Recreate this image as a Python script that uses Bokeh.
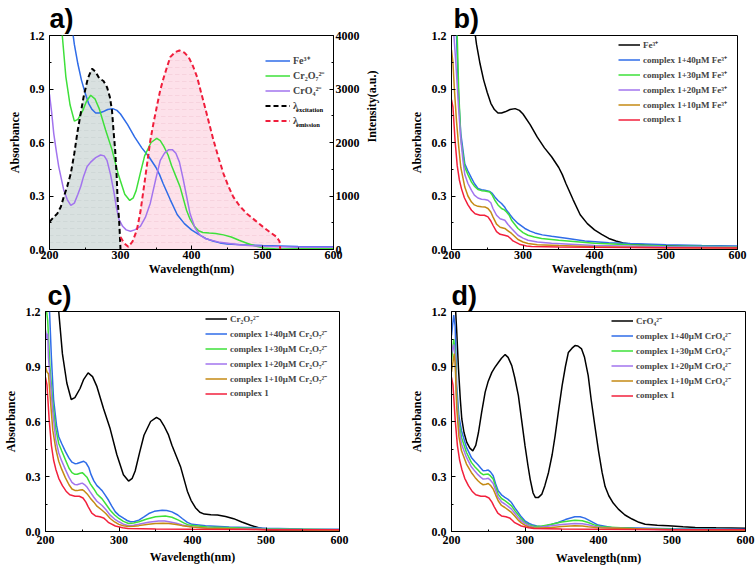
import math
from bokeh.plotting import figure
from bokeh.models import (Range1d, LinearAxis, FixedTicker, Legend, LegendItem,
                          Label, NumeralTickFormatter)
from bokeh.layouts import column, row
from bokeh.embed import file_html
from bokeh.resources import INLINE

# ---------------- data ----------------
fe_wl = [200, 220, 230, 235, 240, 245, 250, 255, 260, 265, 270, 275, 282, 289, 295, 300, 310, 320,
         330, 340, 350, 355, 360, 370, 380, 390, 400, 410, 420, 430, 440, 450, 470, 500, 550, 600]
fe_abs = [2.2, 1.6, 1.3, 1.15, 1.04, 0.95, 0.88, 0.82, 0.785, 0.765, 0.765, 0.772, 0.785, 0.79, 0.78,
          0.76, 0.70, 0.63, 0.57, 0.52, 0.46, 0.42, 0.37, 0.28, 0.195, 0.145, 0.11, 0.085, 0.062,
          0.048, 0.037, 0.031, 0.027, 0.022, 0.017, 0.015]

cr2_wl = [200, 210, 218, 223, 229, 235, 240, 247, 252, 258, 264, 270, 279, 288, 297, 306, 313, 318,
          322, 328, 334, 343, 351, 356, 361, 367, 372, 378, 384, 393, 398, 404, 410, 416, 425, 434,
          445, 456, 467, 479, 490, 502, 520, 560, 600]
cr2_abs = [2.0, 1.5, 1.2, 0.97, 0.81, 0.72, 0.73, 0.78, 0.83, 0.865, 0.845, 0.79, 0.67, 0.56, 0.42,
           0.31, 0.275, 0.29, 0.33, 0.43, 0.525, 0.60, 0.623, 0.61, 0.578, 0.53, 0.47, 0.41, 0.35,
           0.22, 0.17, 0.13, 0.105, 0.095, 0.092, 0.09, 0.082, 0.07, 0.052, 0.034, 0.02, 0.008,
           0.003, 0.004, 0.005]

cro_a_wl = [200, 203, 206, 210, 213, 217, 220, 225, 230, 235, 240, 244, 248, 253, 258, 265, 272, 277,
            281, 286, 291, 294, 298, 303, 308, 314, 320, 328, 335, 342, 350, 356, 362, 368, 373, 378,
            383, 388, 393, 398, 405, 412, 420, 440, 470, 500, 550, 600]
cro_a_abs = [0.87, 0.77, 0.65, 0.54, 0.465, 0.39, 0.335, 0.28, 0.247, 0.26, 0.31, 0.353, 0.41, 0.465,
             0.49, 0.515, 0.53, 0.525, 0.50, 0.42, 0.316, 0.24, 0.167, 0.13, 0.11, 0.102, 0.11, 0.13,
             0.18, 0.26, 0.40, 0.50, 0.54, 0.56, 0.56, 0.54, 0.49, 0.40, 0.30, 0.20, 0.12, 0.08, 0.06,
             0.04, 0.025, 0.018, 0.013, 0.012]

ex_wl = [200, 205, 211, 216, 220, 225, 230, 235, 239, 244, 248, 254, 260, 265, 270, 276, 281, 285,
         288, 290, 292.5, 294.5, 296, 298, 299, 300]
ex_int = [515, 590, 670, 800, 980, 1180, 1420, 1800, 2165, 2550, 2850, 3200, 3380, 3320, 3200, 3150,
          3035, 2850, 2600, 2250, 1855, 1400, 920, 550, 300, 0]

em_wl = [300, 305, 311, 317, 323, 328, 333, 338, 342, 347, 352, 356, 361, 366, 370, 377, 383, 390,
         396, 402, 408, 413, 419, 425, 431, 438, 445, 452, 459, 468, 478, 490, 501, 510, 520, 524, 525]
em_int = [235, 120, 50, 150, 360, 700, 1170, 1650, 2040, 2400, 2725, 2980, 3220, 3430, 3595, 3690,
          3720, 3680, 3595, 3430, 3220, 2960, 2660, 2350, 2040, 1720, 1420, 1180, 980, 810, 670, 540,
          420, 330, 235, 150, 0]

# complex 1 (shared by b, c, d)
c1_wl = [200, 202, 205, 208, 211, 214, 218, 223, 228, 233, 240, 246, 251, 255, 258, 263, 268, 274,
         279, 283, 286, 295, 305, 312, 350, 400, 500, 600]
c1_abs = [0.84, 0.80, 0.61, 0.47, 0.39, 0.34, 0.29, 0.25, 0.22, 0.20, 0.192, 0.192, 0.183, 0.16,
          0.136, 0.10, 0.085, 0.08, 0.074, 0.06, 0.048, 0.03, 0.02, 0.017, 0.014, 0.012, 0.01, 0.009]

# panel b : complex 1 + Fe3+
b40_wl = [200, 205, 207, 210, 213, 218.6, 223, 228, 232, 237, 242, 246.6, 253.6, 257, 260.6, 265,
          270, 274, 277, 281, 286, 293, 302.6, 310, 316.6, 327, 340, 363, 386.5, 420, 450, 500, 550, 600]
b40_abs = [1.8, 1.4, 1.2, 0.85, 0.65, 0.48, 0.44, 0.40, 0.37, 0.342, 0.335, 0.332, 0.325, 0.315,
           0.295, 0.275, 0.258, 0.24, 0.22, 0.20, 0.174, 0.146, 0.118, 0.103, 0.093, 0.082, 0.074,
           0.062, 0.048, 0.038, 0.033, 0.027, 0.022, 0.02]
b30_wl = [200, 205, 208, 210, 213, 218.6, 223, 228, 232, 237, 242, 246.6, 253.6, 257, 260.6, 265,
          270, 274, 277, 281, 284, 293, 300, 307, 316, 326, 350, 400, 450, 500, 600]
b30_abs = [1.7, 1.35, 1.2, 0.9, 0.62, 0.462, 0.42, 0.378, 0.355, 0.336, 0.33, 0.328, 0.322, 0.305,
           0.276, 0.25, 0.23, 0.222, 0.21, 0.19, 0.164, 0.118, 0.095, 0.08, 0.07, 0.062, 0.052,
           0.035, 0.026, 0.02, 0.015]
b20_wl = [200, 203, 206, 209.8, 213, 216, 218.6, 223, 228, 232, 237, 242, 246.6, 251, 255, 258, 263,
          268, 274.6, 279, 284, 293, 300, 307, 320, 340, 400, 500, 600]
b20_abs = [1.25, 1.22, 1.05, 0.80, 0.62, 0.50, 0.42, 0.37, 0.332, 0.305, 0.289, 0.282, 0.28, 0.276,
           0.262, 0.23, 0.192, 0.172, 0.164, 0.14, 0.118, 0.08, 0.064, 0.052, 0.042, 0.035, 0.022,
           0.016, 0.012]
b10_wl = [200, 202, 204, 207, 210, 213, 218.6, 223, 228, 232, 237, 242, 246.6, 251, 255, 258, 263,
          268, 274.6, 279, 284, 293, 300, 307, 320, 350, 400, 500, 600]
b10_abs = [1.12, 1.05, 0.90, 0.72, 0.58, 0.46, 0.35, 0.30, 0.266, 0.25, 0.242, 0.24, 0.239, 0.23,
           0.21, 0.183, 0.142, 0.125, 0.118, 0.105, 0.09, 0.056, 0.042, 0.034, 0.027, 0.022, 0.015,
           0.01, 0.008]

# panel c : complex 1 + Cr2O7 2-
c40_wl = [200, 205, 208, 211, 215, 218, 222, 227, 232, 236, 240, 243, 248, 252, 255, 259, 262, 265.8,
          270, 274, 277, 281, 286, 290, 295, 300, 306.6, 311, 315.6, 321, 327, 334, 340.6, 348, 358.7,
          365, 372, 380, 386, 393, 399.5, 417.7, 450, 500, 550, 600]
c40_abs = [1.6, 1.25, 0.95, 0.72, 0.58, 0.517, 0.48, 0.437, 0.40, 0.378, 0.37, 0.371, 0.378, 0.383,
           0.375, 0.348, 0.31, 0.276, 0.25, 0.235, 0.223, 0.20, 0.169, 0.14, 0.107, 0.088, 0.071,
           0.06, 0.053, 0.055, 0.062, 0.08, 0.098, 0.11, 0.116, 0.114, 0.107, 0.09, 0.071, 0.05,
           0.039, 0.032, 0.025, 0.018, 0.014, 0.012]
c30_wl = [200, 203, 206, 210, 214, 218, 222, 227, 232, 236, 240, 243, 247, 250, 253, 256.7, 261,
          265.8, 270, 277, 282, 288, 294, 299.8, 306, 313, 320, 327, 338, 349.7, 363, 372, 381, 388,
          395, 420, 500, 600]
c30_abs = [1.25, 1.15, 0.90, 0.70, 0.56, 0.48, 0.44, 0.392, 0.345, 0.321, 0.312, 0.312, 0.318, 0.321,
           0.31, 0.294, 0.26, 0.232, 0.205, 0.178, 0.15, 0.116, 0.09, 0.071, 0.055, 0.044, 0.046,
           0.053, 0.068, 0.08, 0.084, 0.078, 0.062, 0.047, 0.035, 0.025, 0.015, 0.01]
c20_wl = [200, 202, 203, 204, 207, 210, 214, 218, 222, 227, 232, 236, 240, 243, 247, 250, 253, 256.7,
          261, 265.8, 270, 277, 282, 288, 294, 299.8, 306, 313, 320, 327, 340, 354, 362, 368, 378,
          386, 400, 420, 500, 600]
c20_abs = [1.1, 1.05, 1.08, 0.95, 0.80, 0.65, 0.50, 0.428, 0.385, 0.339, 0.295, 0.268, 0.256, 0.255,
           0.26, 0.264, 0.256, 0.241, 0.215, 0.187, 0.165, 0.142, 0.12, 0.089, 0.068, 0.053, 0.04,
           0.032, 0.034, 0.039, 0.05, 0.057, 0.057, 0.053, 0.045, 0.035, 0.025, 0.018, 0.012, 0.008]
c10_wl = [200, 202, 204, 207, 210, 214, 218, 222, 227, 232, 236, 240, 243, 247, 250, 253, 256.7, 261,
          265.8, 270, 277, 282, 288, 294, 299.8, 306, 313, 320, 327, 340, 349.7, 360, 368, 378, 386,
          400, 420, 500, 600]
c10_abs = [0.90, 0.87, 0.86, 0.70, 0.55, 0.45, 0.383, 0.34, 0.294, 0.255, 0.232, 0.224, 0.223, 0.226,
           0.228, 0.22, 0.205, 0.182, 0.16, 0.138, 0.116, 0.098, 0.071, 0.052, 0.039, 0.031, 0.027,
           0.028, 0.032, 0.04, 0.044, 0.045, 0.043, 0.038, 0.032, 0.024, 0.018, 0.01, 0.007]

# panel d : CrO4 2- and complex 1 + CrO4 2-
cro_d_wl = [200, 205, 207, 209.5, 212, 214, 217, 220.8, 225, 229, 233, 236.7, 241, 245.8, 250, 254.9,
            259, 264, 268, 273, 277, 282, 286, 291, 295, 300, 304, 307, 311, 314, 318, 323, 327, 332,
            337, 341, 346, 350.5, 355, 359, 364, 368, 372, 377, 381, 386, 390, 395, 400, 404.9, 409,
            414, 420, 427, 436, 445.7, 455, 463.5, 480, 495, 515, 531.6, 560, 580, 600]
cro_d_abs = [1.45, 1.25, 1.1, 0.887, 0.72, 0.614, 0.54, 0.486, 0.455, 0.44, 0.47, 0.54, 0.65, 0.76,
             0.82, 0.868, 0.895, 0.923, 0.945, 0.965, 0.95, 0.905, 0.84, 0.741, 0.62, 0.468, 0.36,
             0.286, 0.21, 0.186, 0.185, 0.204, 0.25, 0.322, 0.42, 0.523, 0.67, 0.796, 0.90, 0.977,
             1.0, 1.014, 1.012, 0.996, 0.95, 0.85, 0.72, 0.577, 0.44, 0.322, 0.245, 0.195, 0.155,
             0.122, 0.09, 0.068, 0.05, 0.04, 0.034, 0.031, 0.026, 0.022, 0.02, 0.019, 0.018]
d40_wl = [200, 203, 205, 207, 210, 213.6, 220.4, 227, 232, 236, 240, 243, 247, 250, 253, 256.7, 260,
          263.5, 268, 272.6, 277, 281.6, 286, 290.7, 295, 299.8, 305, 311, 316, 322.4, 330, 345, 355,
          367.8, 375, 381.4, 390, 399.5, 417.7, 500, 600]
d40_abs = [1.07, 1.18, 1.12, 0.80, 0.63, 0.55, 0.459, 0.404, 0.38, 0.364, 0.345, 0.331, 0.333, 0.335,
           0.325, 0.304, 0.26, 0.222, 0.20, 0.186, 0.175, 0.158, 0.13, 0.104, 0.08, 0.058, 0.045,
           0.035, 0.03, 0.027, 0.032, 0.049, 0.065, 0.08, 0.08, 0.073, 0.055, 0.035, 0.022, 0.015,
           0.012]
d30_wl = [200, 203, 205, 207, 210, 213.6, 220.4, 227, 232, 236, 240, 243, 247, 250, 253, 256.7, 260,
          263.5, 268, 272.6, 277, 281.6, 286, 290.7, 295, 299.8, 306, 313, 320, 336, 350, 367.8, 378,
          386, 395, 404, 450, 500, 600]
d30_abs = [0.93, 1.05, 0.98, 0.75, 0.60, 0.513, 0.431, 0.377, 0.352, 0.335, 0.318, 0.31, 0.312,
           0.313, 0.303, 0.286, 0.245, 0.204, 0.18, 0.168, 0.155, 0.14, 0.115, 0.091, 0.07, 0.049,
           0.035, 0.027, 0.028, 0.04, 0.052, 0.062, 0.059, 0.049, 0.035, 0.026, 0.016, 0.012, 0.01]
d20_wl = [200, 203, 205, 207, 210, 213.6, 220.4, 227, 232, 236, 240, 243, 247, 250, 253, 256.7, 260,
          263.5, 268, 272.6, 277, 281.6, 286, 290.7, 295, 299.8, 306, 313, 320, 336, 350, 367.8, 378,
          386, 395, 404, 450, 500, 600]
d20_abs = [0.97, 1.02, 0.95, 0.72, 0.57, 0.477, 0.404, 0.353, 0.328, 0.31, 0.295, 0.286, 0.288, 0.29,
           0.28, 0.262, 0.225, 0.186, 0.162, 0.15, 0.137, 0.122, 0.10, 0.076, 0.058, 0.044, 0.03,
           0.022, 0.023, 0.031, 0.038, 0.044, 0.042, 0.037, 0.028, 0.022, 0.014, 0.01, 0.008]
d10_wl = [200, 203.7, 205, 207, 210, 213.6, 220.4, 227, 232, 236, 240, 243, 247, 250, 253, 256.7, 260,
          263.5, 268, 272.6, 277, 281.6, 286, 290.7, 295, 299.8, 306, 313, 320, 336, 350, 367.8, 378,
          386, 400, 450, 500, 600]
d10_abs = [0.87, 0.97, 0.92, 0.68, 0.52, 0.44, 0.368, 0.322, 0.295, 0.277, 0.262, 0.255, 0.258,
           0.262, 0.252, 0.232, 0.20, 0.168, 0.142, 0.131, 0.118, 0.104, 0.085, 0.062, 0.047, 0.035,
           0.024, 0.019, 0.019, 0.022, 0.027, 0.031, 0.03, 0.026, 0.02, 0.015, 0.01, 0.007]

x_ticks = [200, 300, 400, 500, 600]
y_ticks = [0.0, 0.3, 0.6, 0.9, 1.2]
int_ticks = [0, 1000, 2000, 3000, 4000]

# ---------------- styling ----------------
SERIF = "Liberation Serif"
BLUE, GREEN, PURPLE, ORANGE, RED = "#2f6ce8", "#3ee03a", "#a274ee", "#c48a14", "#f2203c"


def style_axis(ax, label_standoff, axis_standoff):
    ax.axis_line_color = "black"
    ax.major_tick_line_color = "black"
    ax.minor_tick_line_color = "black"
    ax.major_tick_in = 4
    ax.major_tick_out = 0
    ax.minor_tick_in = 2
    ax.minor_tick_out = 0
    ax.major_label_text_font = SERIF
    ax.major_label_text_font_style = "bold"
    ax.major_label_text_font_size = "12px"
    ax.major_label_text_color = "black"
    ax.axis_label_text_font = SERIF
    ax.axis_label_text_font_style = "bold"
    ax.axis_label_text_font_size = "12px"
    ax.axis_label_text_color = "black"
    ax.major_label_standoff = label_standoff
    ax.axis_label_standoff = axis_standoff


def make_fig(w, h, bl, br, bt, bb, letter, letter_off, letter_standoff, xstand):
    p = figure(width=w, height=h, x_range=Range1d(200, 600), y_range=Range1d(0, 1.2),
               output_backend="svg", toolbar_location=None,
               min_border_left=bl, min_border_right=br, min_border_top=bt, min_border_bottom=bb)
    p.xgrid.visible = False
    p.ygrid.visible = False
    p.outline_line_color = "black"
    p.outline_line_width = 1
    p.background_fill_color = "white"
    p.border_fill_color = "white"
    p.xaxis.axis_label = "Wavelength(nm)"
    p.yaxis.axis_label = "Absorbance"
    p.xaxis.ticker = FixedTicker(ticks=x_ticks, minor_ticks=[250, 350, 450, 550])
    p.yaxis.ticker = FixedTicker(ticks=y_ticks, minor_ticks=[0.15, 0.45, 0.75, 1.05])
    p.yaxis.formatter = NumeralTickFormatter(format="0.0")
    style_axis(p.xaxis[0], xstand[0], xstand[1])
    style_axis(p.yaxis[0], 5, 5)
    p.title.text = letter
    p.title.align = "left"
    p.title.offset = letter_off
    p.title.standoff = letter_standoff
    p.title.text_font = "Liberation Sans"
    p.title.text_font_style = "bold"
    p.title.text_font_size = "27px"
    p.title.text_color = "black"
    return p


def make_legend(items, loc, glyph_w, size, padding):
    lg = Legend(items=[LegendItem(label=t, renderers=[r]) for t, r in items], location=loc)
    lg.label_text_font = SERIF
    lg.label_text_font_style = "bold"
    lg.label_text_font_size = size
    lg.glyph_width = glyph_w
    lg.glyph_height = 15
    lg.label_height = 15
    lg.label_standoff = 3
    lg.spacing = 0
    lg.padding = padding
    lg.margin = 0
    lg.border_line_alpha = 0
    lg.background_fill_alpha = 0
    return lg


LW = 1.5

# ---------------- panel a ----------------
pa = make_fig(388, 278, 49, 55, 35, 29, "a)", 0, 3, (1, 0))
pa.extra_y_ranges = {"int": Range1d(0, 4000)}
rax = LinearAxis(y_range_name="int", axis_label="Intensity(a.u.)",
                 ticker=FixedTicker(ticks=int_ticks, minor_ticks=[500, 1500, 2500, 3500]))
style_axis(rax, 2, 9)
rax.axis_label_orientation = math.pi / 2
pa.add_layout(rax, "right")

pa.varea(x=ex_wl, y1=0, y2=ex_int, y_range_name="int", fill_color="#d9e1e0", fill_alpha=1,
         hatch_pattern="horizontal_dash", hatch_color="#b9c4c4", hatch_alpha=0.5,
         hatch_scale=7, hatch_weight=0.6)
pa.varea(x=em_wl, y1=0, y2=em_int, y_range_name="int", fill_color="#fde1ea", fill_alpha=1,
         hatch_pattern="horizontal_dash", hatch_color="#e7b3c3", hatch_alpha=0.5,
         hatch_scale=7, hatch_weight=0.6)
ra1 = pa.line(fe_wl, fe_abs, line_color=BLUE, line_width=LW)
ra2 = pa.line(cr2_wl, cr2_abs, line_color=GREEN, line_width=LW)
ra3 = pa.line(cro_a_wl, cro_a_abs, line_color=PURPLE, line_width=LW)
ra4 = pa.line(ex_wl, ex_int, y_range_name="int", line_color="black", line_width=2, line_dash="5 3")
ra5 = pa.line(em_wl, em_int, y_range_name="int", line_color="#f01e3c", line_width=2,
              line_dash="5 3")
pa.add_layout(make_legend([("Fe³⁺", ra1), ("Cr₂O₇²⁻", ra2), ("CrO₄²⁻", ra3),
                           ("λ", ra4), ("λ", ra5)], (212, 117.5), 25, "10px", 4))
for txt, yv in [("excitation", 0.785), ("emission", 0.701)]:
    pa.add_layout(Label(x=547.2, y=yv, text=txt, text_font=SERIF, text_font_style="bold",
                        text_font_size="6.5px", text_color="black", text_baseline="alphabetic"))

# ---------------- panel b ----------------
pb = make_fig(368, 278, 63, 19, 35, 29, "b)", 2, 3, (1, 0))
rb0 = pb.line(fe_wl, fe_abs, line_color="black", line_width=LW)
rb1 = pb.line(b40_wl, b40_abs, line_color=BLUE, line_width=LW)
rb2 = pb.line(b30_wl, b30_abs, line_color=GREEN, line_width=LW)
rb3 = pb.line(b20_wl, b20_abs, line_color=PURPLE, line_width=LW)
rb4 = pb.line(b10_wl, b10_abs, line_color=ORANGE, line_width=LW)
rb5 = pb.line(c1_wl, c1_abs, line_color=RED, line_width=LW)
pb.add_layout(make_legend([("Fe³⁺", rb0), ("complex 1+40μM Fe³⁺", rb1),
                           ("complex 1+30μM Fe³⁺", rb2), ("complex 1+20μM Fe³⁺", rb3),
                           ("complex 1+10μM Fe³⁺", rb4), ("complex 1", rb5)],
                          (166, 121.5), 22, "9px", 1))

# ---------------- panel c ----------------
pc = make_fig(378, 291, 45, 39, 33, 36, "c)", 2, 1, (4, 3))
rc0 = pc.line(cr2_wl, cr2_abs, line_color="black", line_width=LW)
rc1 = pc.line(c40_wl, c40_abs, line_color=BLUE, line_width=LW)
rc2 = pc.line(c30_wl, c30_abs, line_color=GREEN, line_width=LW)
rc3 = pc.line(c20_wl, c20_abs, line_color=PURPLE, line_width=LW)
rc4 = pc.line(c10_wl, c10_abs, line_color=ORANGE, line_width=LW)
rc5 = pc.line(c1_wl, c1_abs, line_color=RED, line_width=LW)
pc.add_layout(make_legend([("Cr₂O₇²⁻", rc0), ("complex 1+40μM Cr₂O₇²⁻", rc1),
                           ("complex 1+30μM Cr₂O₇²⁻", rc2), ("complex 1+20μM Cr₂O₇²⁻", rc3),
                           ("complex 1+10μM Cr₂O₇²⁻", rc4), ("complex 1", rc5)],
                          (159, 129.5), 22, "9px", 1))

# ---------------- panel d ----------------
pd_ = make_fig(378, 291, 73, 11, 33, 38, "d)", 0, 1, (4, 4))
rd0 = pd_.line(cro_d_wl, cro_d_abs, line_color="black", line_width=LW)
rd1 = pd_.line(d40_wl, d40_abs, line_color=BLUE, line_width=LW)
rd2 = pd_.line(d30_wl, d30_abs, line_color=GREEN, line_width=LW)
rd3 = pd_.line(d20_wl, d20_abs, line_color=PURPLE, line_width=LW)
rd4 = pd_.line(d10_wl, d10_abs, line_color=ORANGE, line_width=LW)
rd5 = pd_.line(c1_wl, c1_abs, line_color=RED, line_width=LW)
pd_.add_layout(make_legend([("CrO₄²⁻", rd0), ("complex 1+40μM CrO₄²⁻", rd1),
                            ("complex 1+30μM CrO₄²⁻", rd2), ("complex 1+20μM CrO₄²⁻", rd3),
                            ("complex 1+10μM CrO₄²⁻", rd4), ("complex 1", rd5)],
                           (159, 127.5), 22, "9px", 1))

layout = column(row(pa, pb), row(pc, pd_))
open("out.html", "w").write(file_html(layout, INLINE))
